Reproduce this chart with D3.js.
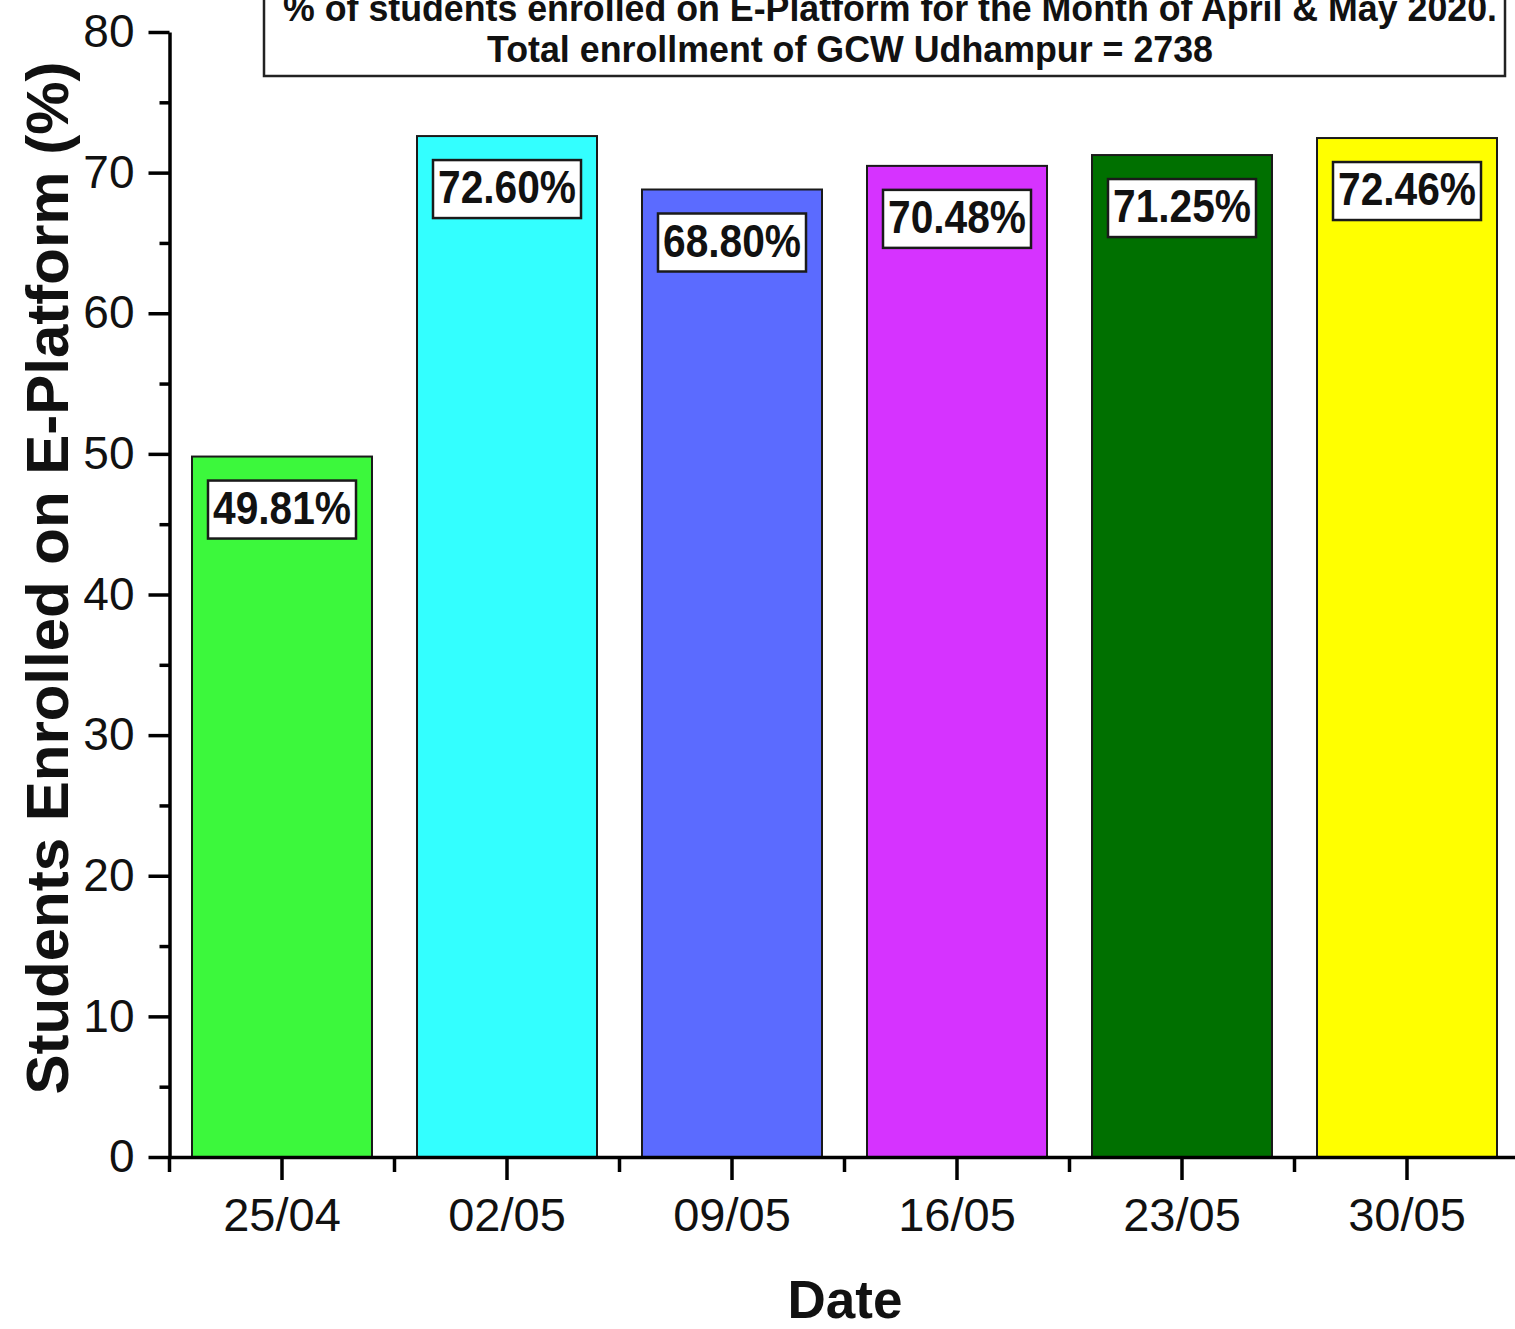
<!DOCTYPE html>
<html>
<head>
<meta charset="utf-8">
<script src="https://cdn.jsdelivr.net/npm/d3@7"></script>
<style>
  body { margin: 0; background: #fff; }
  svg { display: block; font-family: "Liberation Sans", Arial, sans-serif; }
</style>
</head>
<body>
<div id="chart"></div>
<script>
  // data
  const dates = ['25/04', '02/05', '09/05', '16/05', '23/05', '30/05'];
  const percents = [49.81, 72.60, 68.80, 70.48, 71.25, 72.46];
  const labels = ['49.81%', '72.60%', '68.80%', '70.48%', '71.25%', '72.46%'];
  const colors = ['#3cf83c', '#33ffff', '#5b6bff', '#d633ff', '#007000', '#ffff00'];
  const yTicks = [0, 10, 20, 30, 40, 50, 60, 70, 80];
  const titleLines = [
    '% of students enrolled on E-Platform for the Month of April & May 2020.',
    'Total enrollment of GCW Udhampur = 2738'
  ];

  const width = 1515;
  const height = 1329;
  const margin = { top: 32, left: 169.5, bottom: 1157 };

  const svg = d3.select('#chart')
    .append('svg')
    .attr('width', width)
    .attr('height', height);

  const x = d3.scaleBand()
    .domain(dates)
    .range([margin.left, margin.left + 6 * 225])
    .paddingInner(0.2)
    .paddingOuter(0.1);

  const y = d3.scaleLinear()
    .domain([0, 80])
    .range([margin.bottom, margin.top]);

  const rows = dates.map((d, i) => ({ date: d, value: percents[i], label: labels[i], color: colors[i] }));

  // bars
  svg.append('g')
    .selectAll('rect')
    .data(rows)
    .join('rect')
    .attr('x', d => x(d.date))
    .attr('y', d => y(d.value))
    .attr('width', x.bandwidth())
    .attr('height', d => y(0) - y(d.value))
    .attr('fill', d => d.color)
    .attr('stroke', '#1a1a1a')
    .attr('stroke-width', 2);

  // value labels in white boxes
  const lbl = svg.append('g')
    .selectAll('g')
    .data(rows)
    .join('g')
    .attr('transform', d => `translate(${x(d.date) + x.bandwidth() / 2},${y(d.value) + 24})`);
  lbl.append('rect')
    .attr('x', -74)
    .attr('y', 0)
    .attr('width', 148)
    .attr('height', 58)
    .attr('fill', '#fff')
    .attr('stroke', '#1a1a1a')
    .attr('stroke-width', 2.5);
  lbl.append('text')
    .attr('x', 0)
    .attr('y', 43)
    .attr('text-anchor', 'middle')
    .attr('font-size', 46)
    .attr('font-weight', 'bold')
    .attr('fill', '#111')
    .attr('textLength', 138)
    .attr('lengthAdjust', 'spacingAndGlyphs')
    .text(d => d.label);

  // y axis: major + minor ticks
  const yAxis = svg.append('g')
    .attr('transform', `translate(${margin.left},0)`)
    .call(d3.axisLeft(y).tickValues(yTicks).tickSize(21).tickPadding(14).tickSizeOuter(0));
  yAxis.selectAll('text')
    .attr('font-size', 46)
    .attr('fill', '#111')
    .attr('font-family', '"Liberation Sans", Arial, sans-serif');
  svg.append('g')
    .attr('transform', `translate(${margin.left},0)`)
    .call(d3.axisLeft(y).tickValues(d3.range(5, 80, 10)).tickSize(10).tickFormat(''))
    .call(g => g.select('.domain').remove());

  // x axis: major ticks at categories, minor at band edges
  const xAxis = svg.append('g')
    .attr('transform', `translate(0,${margin.bottom})`)
    .call(d3.axisBottom(x).tickSize(23).tickPadding(18).tickSizeOuter(0));
  xAxis.selectAll('text')
    .attr('font-size', 47)
    .attr('fill', '#111')
    .attr('font-family', '"Liberation Sans", Arial, sans-serif');
  const edges = d3.range(dates.length + 1).map(i => x.range()[0] + i * x.step());
  svg.append('g')
    .selectAll('line')
    .data(edges)
    .join('line')
    .attr('x1', d => d)
    .attr('x2', d => d)
    .attr('y1', margin.bottom)
    .attr('y2', margin.bottom + 15)
    .attr('stroke', '#000')
    .attr('stroke-width', 3.5);

  svg.selectAll('.domain, .tick line')
    .attr('stroke', '#000')
    .attr('stroke-width', 3.5);

  // axis titles
  svg.append('text')
    .attr('transform', 'translate(68,578) rotate(-90)')
    .attr('text-anchor', 'middle')
    .attr('font-size', 60)
    .attr('font-weight', 'bold')
    .attr('fill', '#111')
    .attr('textLength', 1033)
    .attr('lengthAdjust', 'spacingAndGlyphs')
    .text('Students Enrolled on E-Platform (%)');

  svg.append('text')
    .attr('x', 845)
    .attr('y', 1318)
    .attr('text-anchor', 'middle')
    .attr('font-size', 53)
    .attr('font-weight', 'bold')
    .attr('fill', '#111')
    .text('Date');

  // title box (its top runs off the page, as in the source)
  svg.append('rect')
    .attr('x', 264)
    .attr('y', -40)
    .attr('width', 1241)
    .attr('height', 116)
    .attr('fill', '#fff')
    .attr('stroke', '#222')
    .attr('stroke-width', 2.5);
  svg.append('text')
    .attr('x', 890)
    .attr('y', 21)
    .attr('text-anchor', 'middle')
    .attr('font-size', 37)
    .attr('font-weight', 'bold')
    .attr('fill', '#111')
    .attr('textLength', 1214)
    .attr('lengthAdjust', 'spacingAndGlyphs')
    .text(titleLines[0]);
  svg.append('text')
    .attr('x', 850)
    .attr('y', 62)
    .attr('text-anchor', 'middle')
    .attr('font-size', 37)
    .attr('font-weight', 'bold')
    .attr('fill', '#111')
    .attr('textLength', 726)
    .attr('lengthAdjust', 'spacingAndGlyphs')
    .text(titleLines[1]);
</script>
</body>
</html>
